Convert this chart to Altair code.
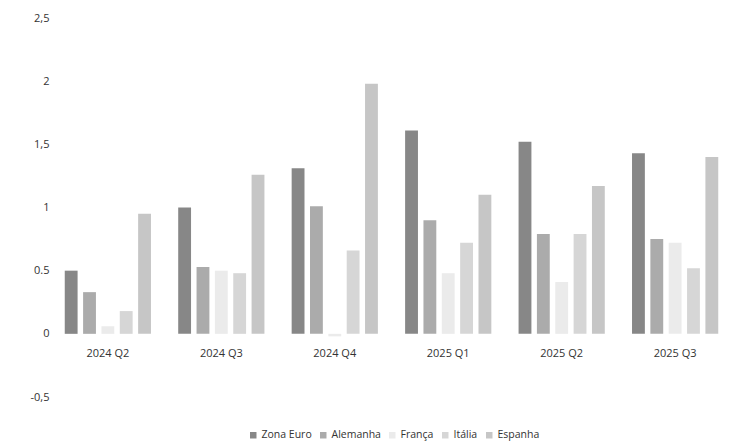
import altair as alt
import pandas as pd

quarters = ["2024 Q2", "2024 Q3", "2024 Q4", "2025 Q1", "2025 Q2", "2025 Q3"]
series = ["Zona Euro", "Alemanha", "França", "Itália", "Espanha"]

zona_euro = [0.50, 1.00, 1.31, 1.61, 1.52, 1.43]
alemanha = [0.33, 0.53, 1.01, 0.90, 0.79, 0.75]
franca = [0.06, 0.50, -0.02, 0.48, 0.41, 0.72]
italia = [0.18, 0.48, 0.66, 0.72, 0.79, 0.52]
espanha = [0.95, 1.26, 1.98, 1.10, 1.17, 1.40]

y_ticks = [-0.5, 0, 0.5, 1, 1.5, 2, 2.5]
y_tick_labels = ["-0,5", "0", "0.5", "1", "1,5", "2", "2,5"]

colors = ["#878787", "#ababab", "#ebebeb", "#d6d6d6", "#c6c6c6"]

values_by_series = [zona_euro, alemanha, franca, italia, espanha]
rows = []
for s, vals in zip(series, values_by_series):
    for q, v in zip(quarters, vals):
        rows.append({"quarter": q, "serie": s, "valor": v})
df = pd.DataFrame(rows)

label_expr = "''"
for v, lab in zip(y_ticks, y_tick_labels):
    label_expr = f"abs(datum.value - ({v})) < 1e-6 ? '{lab}' : ({label_expr})"

FONT = "Open Sans"

bars = alt.Chart(df).mark_bar().encode(
    x=alt.X(
        "quarter:N",
        sort=quarters,
        scale=alt.Scale(paddingInner=0.24, paddingOuter=0.13),
        axis=alt.Axis(
            title=None, labelAngle=0, domain=False, ticks=False,
            offset=-62, labelPadding=12, labelFontSize=11,
            labelColor="#333333", labelFont=FONT,
        ),
    ),
    xOffset=alt.XOffset("serie:N", sort=series, scale=alt.Scale(paddingInner=0.3)),
    y=alt.Y(
        "valor:Q",
        scale=alt.Scale(domain=[-0.5, 2.5], nice=False, zero=False),
        axis=alt.Axis(
            values=y_ticks, labelExpr=label_expr, grid=False, domain=False,
            ticks=False, title=None, labelPadding=1, labelFontSize=11,
            labelColor="#333333", labelFont=FONT,
        ),
    ),
    color=alt.Color(
        "serie:N",
        sort=series,
        scale=alt.Scale(domain=series, range=colors),
        legend=alt.Legend(
            title=None, orient="none", legendX=198, legendY=412,
            direction="horizontal", symbolType="square", symbolSize=42,
            symbolStrokeWidth=0, labelFontSize=10.5, labelFont=FONT,
            labelColor="#333333", columnPadding=6, labelOffset=3,
            gridAlign="none",
        ),
    ),
)

chart = bars.properties(
    width=683,
    height=379,
    padding={"left": 42, "top": 10, "right": 0, "bottom": 48},
    autosize=alt.AutoSizeParams(type="none"),
    background="white",
).configure_view(stroke=None)

chart.save("out.html", embed_options={"renderer": "svg", "actions": False})
